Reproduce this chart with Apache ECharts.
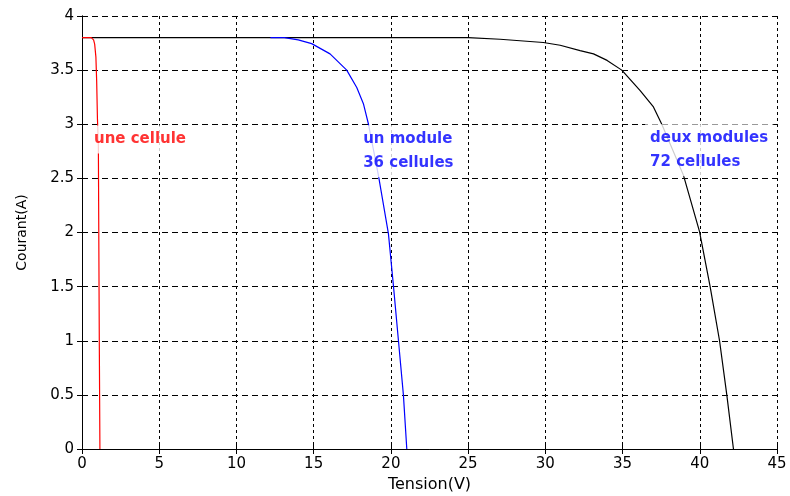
<!DOCTYPE html>
<html>
<head>
<meta charset="utf-8">
<script src="https://cdn.jsdelivr.net/npm/echarts@6/dist/echarts.min.js"></script>
<style>
  html, body { margin: 0; padding: 0; background: #fff; }
  #chart { width: 790px; height: 496px; }
</style>
</head>
<body>
<div id="chart"></div>
<script>
// tension (V), courant (A)
var celluleV = [0, 0.6, 0.75, 0.82, 0.9, 0.95, 1.0, 1.06, 1.12, 1.16];
var celluleI = [3.8, 3.8, 3.78, 3.74, 3.62, 3.4, 3.05, 2.8, 1.0, 0];

var moduleV = [12.2, 13.1, 14.0, 14.87, 16.06, 17.14, 17.79, 18.22, 18.55, 19.19, 19.84, 20.17, 20.49, 20.81, 21.03];
var moduleI = [3.8, 3.8, 3.78, 3.745, 3.65, 3.5, 3.34, 3.19, 3.0, 2.53, 1.99, 1.5, 1.0, 0.5, 0];

var deuxV = [0, 25, 27.07, 29.87, 30.96, 32.25, 33.12, 34.0, 34.95, 36.14, 37.0, 37.54, 38.94, 39.98, 40.67, 41.28, 41.75, 42.18];
var deuxI = [3.8, 3.8, 3.785, 3.755, 3.73, 3.68, 3.65, 3.59, 3.5, 3.31, 3.16, 3.0, 2.53, 2.01, 1.5, 1.0, 0.5, 0];

var labelTexts = ['une cellule', 'un module\n36 cellules', 'deux modules\n72 cellules'];
var labelV = [0.45, 17.88, 36.46];
var labelI = [2.86, 2.75, 2.76];
var labelColors = ['#ff0000', '#0000ff', '#0000ff'];

function pairs(xs, ys) {
    var out = [];
    for (var i = 0, len = xs.length; i < len; i++) {
        out.push([xs[i], ys[i]]);
    }
    return out;
}

function curve(name, xs, ys, color, z) {
    return {
        name: name,
        type: 'line',
        showSymbol: false,
        data: pairs(xs, ys),
        lineStyle: {color: color, width: 1.2},
        z: z
    };
}

var tickFont = {margin: 8, fontFamily: 'DejaVu Sans', fontSize: 15, color: '#000'};

var chart = echarts.init(document.getElementById('chart'));

var notes = [];
for (var k = 0; k < labelTexts.length; k++) {
    notes.push({
        value: [labelV[k], labelI[k]],
        label: {
            show: true,
            position: 'right',
            distance: 0,
            formatter: labelTexts[k],
            color: labelColors[k],
            fontFamily: 'DejaVu Sans',
            fontWeight: 'bold',
            fontSize: 15,
            lineHeight: 24,
            backgroundColor: '#fff',
            padding: [2, 5]
        }
    });
}

var option = {
    backgroundColor: '#fff',
    animation: false,
    grid: {left: 82, right: 13, top: 16, bottom: 47, outerBoundsMode: 'none'},
    xAxis: [
        {
            type: 'value',
            min: 0,
            max: 45,
            interval: 5,
            name: 'Tension(V)',
            nameLocation: 'middle',
            nameGap: 28,
            nameTextStyle: {fontFamily: 'DejaVu Sans', fontSize: 16, color: '#000'},
            axisLine: {lineStyle: {color: '#000', width: 1}},
            axisTick: {inside: true, length: 5, lineStyle: {color: '#000'}},
            axisLabel: tickFont,
            splitLine: {show: true, lineStyle: {color: '#000', type: [3, 3], width: 1}}
        },
        {
            type: 'value',
            position: 'top',
            min: 0,
            max: 45,
            interval: 5,
            axisLine: {lineStyle: {color: '#000', width: 1}},
            axisTick: {inside: true, length: 5, lineStyle: {color: '#000'}},
            axisLabel: {show: false},
            splitLine: {show: false}
        }
    ],
    yAxis: [
        {
            type: 'value',
            min: 0,
            max: 4,
            interval: 0.5,
            name: 'Courant(A)',
            nameLocation: 'middle',
            nameGap: 53,
            nameTextStyle: {fontFamily: 'DejaVu Sans', fontSize: 14, color: '#000'},
            axisLine: {show: true, lineStyle: {color: '#000', width: 1}},
            axisTick: {show: true, inside: true, length: 5, lineStyle: {color: '#000'}},
            axisLabel: tickFont,
            splitLine: {show: true, lineStyle: {color: '#000', type: [6, 4], width: 1}}
        },
        {
            type: 'value',
            position: 'right',
            min: 0,
            max: 4,
            interval: 0.5,
            axisLine: {show: true, lineStyle: {color: '#000', width: 1}},
            axisTick: {show: true, inside: true, length: 5, lineStyle: {color: '#000'}},
            axisLabel: {show: false},
            splitLine: {show: false}
        }
    ],
    series: [
        curve('deux modules', deuxV, deuxI, '#000', 2),
        curve('un module', moduleV, moduleI, '#0000ff', 3),
        curve('une cellule', celluleV, celluleI, '#ff0000', 4),
        {
            name: 'notes',
            type: 'scatter',
            symbolSize: 0,
            data: notes,
            z: 10
        }
    ]
};

chart.setOption(option);
</script>
</body>
</html>
